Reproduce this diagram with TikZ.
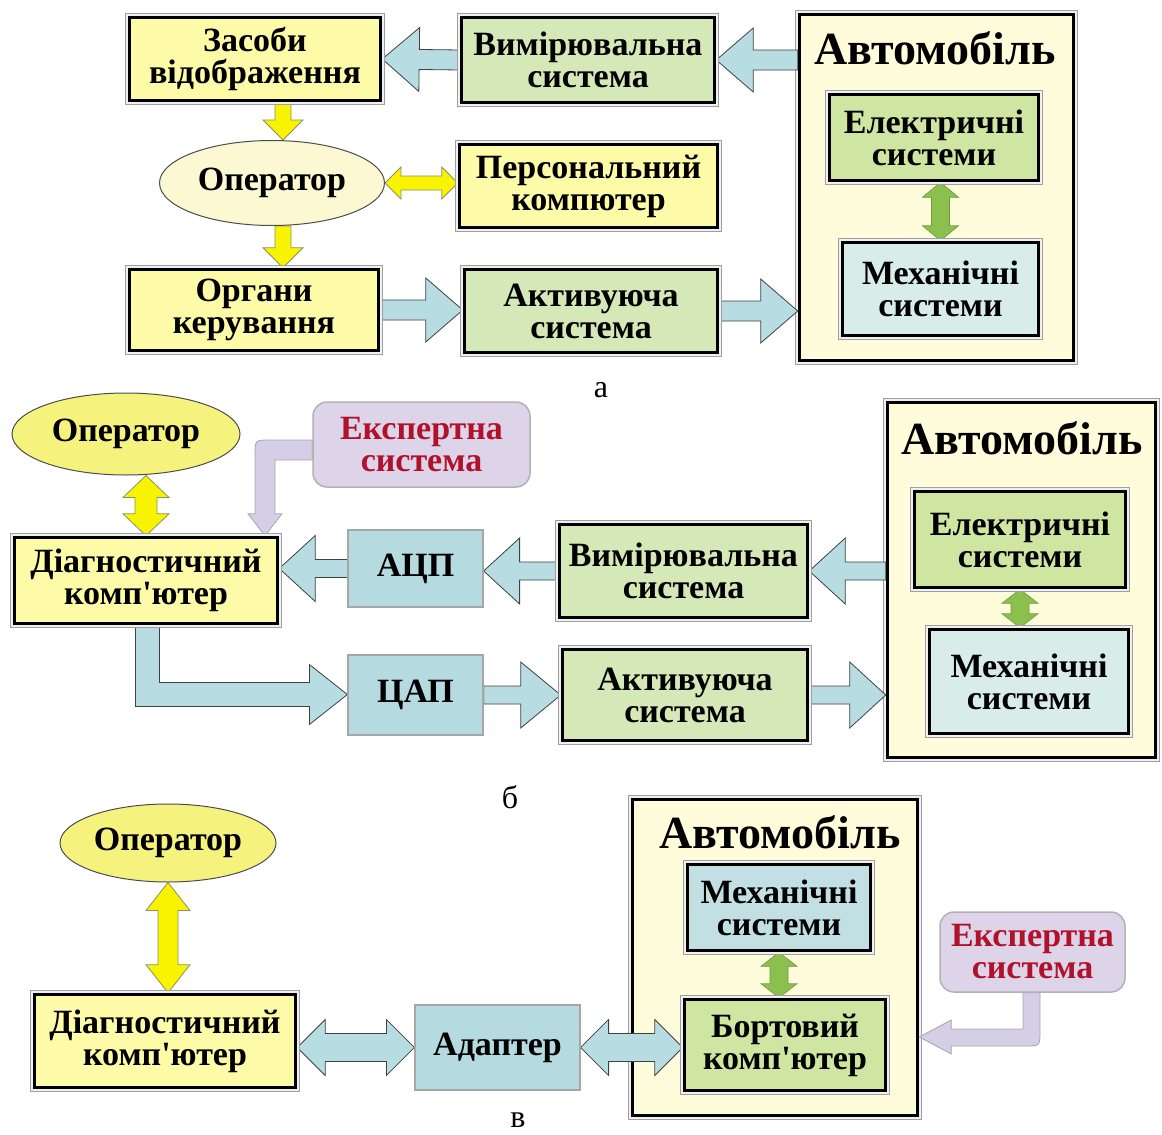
\documentclass[tikz,border=0pt]{standalone}
\usepackage{fontspec}
\setmainfont{Liberation Serif}[Ligatures=TeXOff]
\usetikzlibrary{shapes.geometric,calc,backgrounds}

\definecolor{boxyellow}{HTML}{FDFAA8}
\definecolor{boxgreen}{HTML}{D5E8B8}
\definecolor{elgreen}{HTML}{CFE5A2}
\definecolor{mechpale}{HTML}{D8ECEA}
\definecolor{mechblue}{HTML}{C2E0E4}
\definecolor{autocream}{HTML}{FEFCDA}
\definecolor{opcream}{HTML}{FBF8D2}
\definecolor{opyellow}{HTML}{F6F27E}
\definecolor{arrblue}{HTML}{B7DDE3}
\definecolor{smallblue}{HTML}{B5DADF}
\definecolor{arryellow}{HTML}{F8F400}
\definecolor{arrgreen}{HTML}{8CC04E}
\definecolor{lilac}{HTML}{DDD4EA}
\definecolor{lilacarr}{HTML}{D4CEE6}
\definecolor{expred}{HTML}{B0122C}

\pgfdeclarelayer{arrowlayer}
\pgfsetlayers{background,arrowlayer,main}

\newcommand{\boxfont}{\bfseries\fontsize{34}{32}\selectfont}
\newcommand{\autofont}{\bfseries\fontsize{46}{46}\selectfont}

\tikzset{
  arshaft/.store in=\arsw, arhead/.store in=\arhw, arlen/.store in=\arhl,
  arshaft=10pt, arhead=32pt, arlen=36pt,
  onearrow/.style={to path={
    let \p1=($(\tikztotarget)!\arhl!(\tikztostart)$) in
    ($(\tikztostart)!\arsw!90:(\tikztotarget)$) -- ($(\p1)!\arsw!90:(\tikztotarget)$)
    -- ($(\p1)!\arhw!90:(\tikztotarget)$) -- (\tikztotarget)
    -- ($(\p1)!\arhw!-90:(\tikztotarget)$) -- ($(\p1)!\arsw!-90:(\tikztotarget)$)
    -- ($(\tikztostart)!\arsw!-90:(\tikztotarget)$) -- cycle}},
  twoarrow/.style={to path={
    let \p1=($(\tikztostart)!\arhl!(\tikztotarget)$),
        \p2=($(\tikztotarget)!\arhl!(\tikztostart)$) in
    (\tikztostart) -- ($(\p1)!\arhw!90:(\tikztotarget)$) -- ($(\p1)!\arsw!90:(\tikztotarget)$)
    -- ($(\p2)!\arsw!90:(\tikztotarget)$) -- ($(\p2)!\arhw!90:(\tikztotarget)$) -- (\tikztotarget)
    -- ($(\p2)!\arhw!-90:(\tikztotarget)$) -- ($(\p2)!\arsw!-90:(\tikztotarget)$)
    -- ($(\p1)!\arsw!-90:(\tikztotarget)$) -- ($(\p1)!\arhw!-90:(\tikztotarget)$) -- cycle}},
  box/.style={rectangle, draw=black, line width=3.5pt, font=\boxfont, align=center, inner sep=0pt,
    preaction={draw=gray!75, line width=9pt}, preaction={draw=gray!12, line width=6.5pt}},
  oval/.style={ellipse, draw=gray!60!black, line width=1pt, font=\boxfont, inner sep=0pt},
  tag/.style={rectangle, draw=gray!70, line width=1.2pt, fill=smallblue, font=\boxfont, inner sep=0pt},
  expert/.style={rectangle, rounded corners=14pt, draw=gray!60, line width=1.5pt, fill=lilac,
    font=\boxfont, text=expred, align=center, inner sep=0pt},
  barrow/.style={fill=arrblue, draw=gray!50!black, line width=0.8pt},
  yarrow/.style={fill=arryellow, draw=gray!70!olive, line width=0.8pt},
  garrow/.style={fill=arrgreen, draw=arrgreen!80!black, line width=0.6pt},
  larrow/.style={fill=lilacarr, draw=gray!70, line width=0.8pt},
  lbl/.style={font=\fontsize{32}{32}\selectfont}
}

\begin{document}
\begin{tikzpicture}[x=1pt,y=-1pt]
    \useasboundingbox (0,0) rectangle (1162,1135);
    % схема а
    \begin{pgfonlayer}{background}
        \node[box, fill=autocream, minimum width=274pt, minimum height=346pt] (autoA) at (936.5,187.5) {};
    \end{pgfonlayer}
    \node[font=\autofont] (autoAt) at (935,48) {Автомобіль};
    \node[box, fill=elgreen, minimum width=209pt, minimum height=86pt] (elektrA) at (934,137.5) {Електричні\\системи};
    \node[box, fill=mechpale, minimum width=196pt, minimum height=93pt] (mekhA) at (940.5,289) {Механічні\\системи};
    \node[box, fill=boxyellow, minimum width=251pt, minimum height=83pt] (zasoby) at (255,59) {Засоби\\відображення};
    \node[box, fill=boxgreen, minimum width=253pt, minimum height=85pt] (vymirA) at (588,60) {Вимірювальна\\система};
    \node[oval, fill=opcream, minimum width=225pt, minimum height=85pt] (operA) at (272,183) {Оператор};
    \node[box, fill=boxyellow, minimum width=258pt, minimum height=83pt] (pc) at (588.5,186) {Персональний\\компютер};
    \node[box, fill=boxyellow, minimum width=249pt, minimum height=81pt] (organy) at (254,310) {Органи\\керування};
    \node[box, fill=boxgreen, minimum width=253pt, minimum height=83pt] (aktyvA) at (591,311) {Активуюча\\система};
    \node[lbl] (labA) at (601,390) {а};
    \coordinate (zo) at ($(zasoby.south)+(28,0)$);
    \coordinate (oo) at ($(operA.south)+(11,0)$);
    \begin{pgfonlayer}{arrowlayer}
        \draw[garrow] (elektrA.south -| mekhA.north) to[twoarrow, arshaft=9pt, arhead=18pt, arlen=15pt] (mekhA.north);
        \draw[barrow] (vymirA.west) to[onearrow, arlen=37pt] (zasoby.east);
        \draw[barrow] (autoA.west |- vymirA.west) to[onearrow, arlen=37pt] (vymirA.east);
        \draw[barrow] (organy.east) to[onearrow, arlen=37pt] (organy.east -| aktyvA.west);
        \draw[barrow] (aktyvA.east) to[onearrow, arlen=37pt] (aktyvA.east -| autoA.west);
        \draw[yarrow] (zo) to[onearrow, arshaft=8pt, arhead=20pt, arlen=20pt] (zo |- operA.north);
        \draw[yarrow] (oo) to[onearrow, arshaft=8pt, arhead=20pt, arlen=20pt] (oo |- organy.north);
        \draw[yarrow] (operA.east) to[twoarrow, arshaft=7pt, arhead=16pt, arlen=16pt] (operA.east -| pc.west);
    \end{pgfonlayer}

    % схема б
    \begin{pgfonlayer}{background}
        \node[box, fill=autocream, minimum width=268pt, minimum height=355pt] (autoB) at (1021.5,580) {};
    \end{pgfonlayer}
    \node[font=\autofont] (autoBt) at (1022,438) {Автомобіль};
    \node[box, fill=elgreen, minimum width=211pt, minimum height=96pt] (elektrB) at (1020,539.5) {Електричні\\системи};
    \node[box, fill=mechpale, minimum width=199pt, minimum height=104pt] (mekhB) at (1029,681.5) {Механічні\\системи};
    \node[oval, fill=opyellow, minimum width=228pt, minimum height=82pt] (operB) at (126,434) {Оператор};
    \node[expert, minimum width=217pt, minimum height=85pt] (expertB) at (421.5,444.5) {Експертна\\система};
    \node[box, fill=boxyellow, minimum width=263pt, minimum height=86pt] (diagB) at (146,580.5) {Діагностичний\\комп'ютер};
    \node[tag, minimum width=135pt, minimum height=77pt] (adc) at (415.5,568.5) {АЦП};
    \node[box, fill=boxgreen, minimum width=248pt, minimum height=93pt] (vymirB) at (683.5,571) {Вимірювальна\\система};
    \node[tag, minimum width=135pt, minimum height=80pt] (dac) at (415.5,695) {ЦАП};
    \node[box, fill=boxgreen, minimum width=245pt, minimum height=91pt] (aktyvB) at (685,695) {Активуюча\\система};
    \node[lbl] (labB) at (510,797) {б};
    \coordinate (eb) at (265,450);
    \coordinate (db) at (147.5,694.5);
    \begin{pgfonlayer}{arrowlayer}
        \draw[garrow] (elektrB.south) to[twoarrow, arshaft=9pt, arhead=18pt, arlen=14pt] (elektrB.south |- mekhB.north);
        \draw[yarrow] (diagB.north |- operB.south) to[twoarrow, arshaft=11pt, arhead=23pt, arlen=22pt] (diagB.north);
        \draw[barrow] (adc.west) to[onearrow, arshaft=9pt, arhead=33pt, arlen=36pt] (adc.west -| diagB.east);
        \draw[barrow] (vymirB.west) to[onearrow, arshaft=9pt, arhead=33pt, arlen=36pt] (vymirB.west -| adc.east);
        \draw[barrow] (autoB.west |- vymirB.west) to[onearrow, arshaft=9pt, arhead=33pt, arlen=36pt] (vymirB.east);
        \draw[barrow] (dac.east) to[onearrow, arshaft=9pt, arhead=33pt, arlen=40pt] (dac.east -| aktyvB.west);
        \draw[barrow] (aktyvB.east) to[onearrow, arshaft=9pt, arhead=33pt, arlen=36pt] (aktyvB.east -| autoB.west);
        % вигнута стрілка до ЦАП
        \draw[barrow] ($(db |- diagB.south)+(-12,0)$) -- ($(db)+(-12,12)$)
            -- ($(db -| dac.west)+(-38,12)$) -- ($(db -| dac.west)+(-38,30)$) -- (db -| dac.west)
            -- ($(db -| dac.west)+(-38,-30)$) -- ($(db -| dac.west)+(-38,-12)$)
            -- ($(db)+(12,-12)$) -- ($(db |- diagB.south)+(12,0)$) -- cycle;
        % вигнута стрілка від експертної системи
        \draw[larrow] ($(eb -| expertB.west)+(0,-10)$) -- ($(eb)+(5,-10)$)
            .. controls ($(eb)+(-10,-10)$) .. ($(eb)+(-10,5)$)
            -- ($(eb |- diagB.north)+(-10,-22)$) -- ($(eb |- diagB.north)+(-17,-22)$) -- (eb |- diagB.north)
            -- ($(eb |- diagB.north)+(17,-22)$) -- ($(eb |- diagB.north)+(10,-22)$)
            -- ($(eb)+(10,10)$) -- ($(eb -| expertB.west)+(0,10)$) -- cycle;
    \end{pgfonlayer}

    % схема в
    \begin{pgfonlayer}{background}
        \node[box, fill=autocream, minimum width=285pt, minimum height=316pt] (autoC) at (775,957.5) {};
    \end{pgfonlayer}
    \node[font=\autofont] (autoCt) at (780,832) {Автомобіль};
    \node[box, fill=mechblue, minimum width=183pt, minimum height=86pt] (mekhC) at (779,907.5) {Механічні\\системи};
    \node[box, fill=elgreen, minimum width=201pt, minimum height=91pt] (bort) at (785,1045) {Бортовий\\комп'ютер};
    \node[oval, fill=opyellow, minimum width=216pt, minimum height=78pt] (operC) at (168,843) {Оператор};
    \node[box, fill=boxyellow, minimum width=261pt, minimum height=93pt] (diagC) at (165,1041) {Діагностичний\\комп'ютер};
    \node[tag, minimum width=165pt, minimum height=85pt] (adapter) at (497.5,1047.5) {Адаптер};
    \node[expert, minimum width=185pt, minimum height=80pt] (expertC) at (1032.5,952) {Експертна\\система};
    \node[lbl] (labC) at (518,1120) {в};
    \coordinate (ec) at (1031,1037);
    \begin{pgfonlayer}{arrowlayer}
        \draw[garrow] (mekhC.south) to[twoarrow, arshaft=9pt, arhead=18pt, arlen=14pt] (mekhC.south |- bort.north);
        \draw[yarrow] (operC.south) to[twoarrow, arshaft=10pt, arhead=22pt, arlen=28pt] (operC.south |- diagC.north);
        \draw[barrow] (adapter.west -| diagC.east) to[twoarrow, arshaft=14pt, arhead=28pt, arlen=28pt] (adapter.west);
        \draw[barrow] (adapter.east) to[twoarrow, arshaft=14pt, arhead=28pt, arlen=28pt] (adapter.east -| bort.west);
        % вигнута стрілка до автомобіля
        \draw[larrow] ($(ec |- expertC.south)+(9,0)$) -- ($(ec)+(9,-6)$)
            .. controls ($(ec)+(9,9)$) .. ($(ec)+(-6,9)$)
            -- ($(ec -| autoC.east)+(32,9)$) -- ($(ec -| autoC.east)+(32,17)$) -- (ec -| autoC.east)
            -- ($(ec -| autoC.east)+(32,-17)$) -- ($(ec -| autoC.east)+(32,-8)$)
            -- ($(ec)+(-8,-8)$) -- ($(ec |- expertC.south)+(-8,0)$) -- cycle;
    \end{pgfonlayer}
\end{tikzpicture}
\end{document}
